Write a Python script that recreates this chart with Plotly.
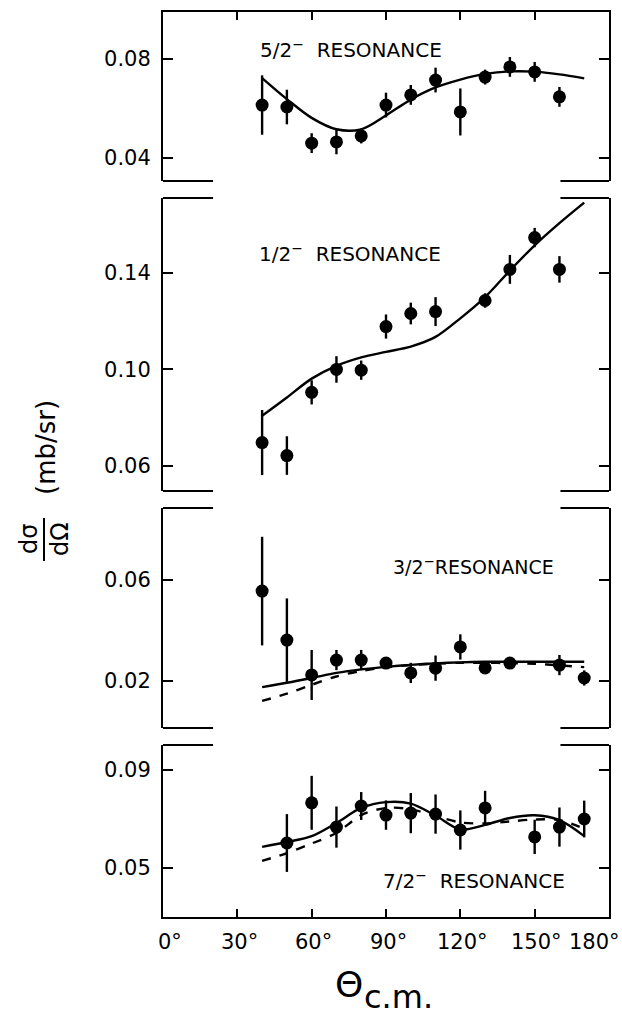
import plotly.graph_objects as go

# ---------------- data ----------------
# 5/2- resonance
ang_52 = [40, 50, 60, 70, 80, 90, 100, 110, 120, 130, 140, 150, 160]
xs_52 = [0.0614, 0.0606, 0.0460, 0.0465, 0.0489, 0.0614, 0.0655, 0.0715, 0.0586, 0.0727, 0.0768, 0.0748, 0.0647]
err_52 = [0.012, 0.007, 0.004, 0.005, 0.003, 0.005, 0.004, 0.005, 0.0095, 0.003, 0.004, 0.004, 0.004]

# 1/2- resonance
ang_12 = [40, 50, 60, 70, 80, 90, 100, 110, 130, 140, 150, 160]
xs_12 = [0.0697, 0.0643, 0.0905, 0.1000, 0.0997, 0.1178, 0.1232, 0.1240, 0.1286, 0.1415, 0.1547, 0.1415]
err_12 = [0.0135, 0.008, 0.005, 0.0055, 0.004, 0.005, 0.0045, 0.006, 0.003, 0.006, 0.004, 0.0055]

# 3/2- resonance
ang_32 = [40, 50, 60, 70, 80, 90, 100, 110, 120, 130, 140, 160, 170]
xs_32 = [0.0556, 0.0362, 0.0224, 0.0283, 0.0283, 0.0271, 0.0232, 0.0251, 0.0335, 0.0252, 0.0271, 0.0263, 0.0212]
err_32 = [0.0215, 0.0165, 0.0099, 0.004, 0.004, 0.002, 0.004, 0.005, 0.005, 0.002, 0.002, 0.004, 0.003]

# 7/2- resonance
ang_72 = [50, 60, 70, 80, 90, 100, 110, 120, 130, 150, 160, 170]
xs_72 = [0.0602, 0.0766, 0.0667, 0.0753, 0.0716, 0.0724, 0.0720, 0.0655, 0.0745, 0.0627, 0.0667, 0.0700]
err_72 = [0.0118, 0.011, 0.0084, 0.0057, 0.006, 0.0082, 0.008, 0.008, 0.007, 0.007, 0.008, 0.0075]

# calculated curves
curve_ang = [40, 50, 60, 70, 80, 90, 100, 110, 120, 130, 140, 150, 160, 170]
fit_52 = [0.0723, 0.0638, 0.0562, 0.0516, 0.0516, 0.0572, 0.0636, 0.0685, 0.0717, 0.0740, 0.0750, 0.0749, 0.0738, 0.0722]
fit_12 = [0.0808, 0.0884, 0.0962, 0.1015, 0.1050, 0.1073, 0.1095, 0.1135, 0.1212, 0.1300, 0.1410, 0.1515, 0.1607, 0.1692]
fit_32 = [0.0176, 0.0193, 0.0212, 0.0232, 0.0246, 0.0256, 0.0264, 0.0270, 0.0274, 0.0276, 0.0276, 0.0276, 0.0276, 0.0276]
fit_32_dash = [0.0121, 0.0150, 0.0185, 0.0218, 0.0240, 0.0254, 0.0263, 0.0269, 0.0272, 0.0272, 0.0271, 0.0268, 0.0262, 0.0255]
fit_72 = [0.0586, 0.0606, 0.0630, 0.0684, 0.0745, 0.0769, 0.0763, 0.0714, 0.0657, 0.0676, 0.0704, 0.0715, 0.0695, 0.0630]
fit_72_dash = [0.0529, 0.0561, 0.0600, 0.0643, 0.0716, 0.0745, 0.0740, 0.0712, 0.0686, 0.0682, 0.0690, 0.0698, 0.0695, 0.0660]

panel_labels = ["5/2<sup>−</sup>  RESONANCE", "1/2<sup>−</sup>  RESONANCE",
                "3/2<sup>−</sup>RESONANCE", "7/2<sup>−</sup>  RESONANCE"]
panel_yticks = [[0.04, 0.08], [0.06, 0.10, 0.14], [0.02, 0.06], [0.05, 0.09]]
panel_ranges = [[0.0307, 0.0990], [0.0496, 0.1711], [0.0014, 0.0885], [0.0300, 0.1002]]
x_ticks = [0, 30, 60, 90, 120, 150, 180]
x_ticktext = ["0°", "30°", "60°", "90°", "120°", "150°", "180°"]

# ---------------- layout geometry (pixels) ----------------
W, H = 622, 1015
L, R, T, B = 163, 609, 12, 917
panel_px = [(12, 181), (198, 491), (508, 728), (745, 917)]


def px_x(p):
    return (p - L) / (R - L)


def px_y(p):
    return (B - p) / (B - T)


FONT = "DejaVu Sans"
BLACK = "black"
LW = 2

fig = go.Figure()

series = [
    (ang_52, xs_52, err_52, [fit_52], ""),
    (ang_12, xs_12, err_12, [fit_12], "2"),
    (ang_32, xs_32, err_32, [fit_32, fit_32_dash], "3"),
    (ang_72, xs_72, err_72, [fit_72, fit_72_dash], "4"),
]

for ang, val, err, fits, s in series:
    for i, f in enumerate(fits):
        fig.add_trace(go.Scatter(
            x=curve_ang, y=f, mode="lines", xaxis="x" + s, yaxis="y" + s,
            line=dict(color=BLACK, width=2.4, shape="spline", smoothing=0.9,
                      dash="solid" if i == 0 else "dash"),
            showlegend=False, hoverinfo="skip"))
    fig.add_trace(go.Scatter(
        x=ang, y=val, mode="markers", xaxis="x" + s, yaxis="y" + s,
        marker=dict(color=BLACK, size=13, line=dict(width=0)),
        error_y=dict(type="data", array=err, visible=True, color=BLACK,
                     thickness=2.4, width=0),
        showlegend=False))

layout = dict(
    width=W, height=H,
    margin=dict(l=L, r=W - R, t=T, b=H - B, pad=0),
    paper_bgcolor="white", plot_bgcolor="white",
    font=dict(family=FONT, color=BLACK),
    showlegend=False,
)

for k, (top, bot) in enumerate(panel_px):
    s = "" if k == 0 else str(k + 1)
    dom = [px_y(bot), px_y(top)]
    ticks = panel_yticks[k]
    layout["yaxis" + s] = dict(
        domain=dom, range=panel_ranges[k], anchor="x" + s,
        showgrid=False, zeroline=False,
        showline=True, linecolor=BLACK, linewidth=LW, mirror="ticks",
        ticks="inside", ticklen=10, tickwidth=LW, tickcolor=BLACK,
        tickvals=ticks, ticktext=[f"{t:.2f}" for t in ticks],
        tickfont=dict(family=FONT, size=21, color=BLACK),
        ticklabelstandoff=6,
    )
    xa = dict(range=[0, 180], anchor="y" + s, showgrid=False, zeroline=False,
              showticklabels=False)
    if k == 0:
        xa.update(side="top", showline=True, linecolor=BLACK, linewidth=LW,
                  ticks="inside", ticklen=8, tickwidth=LW, tickcolor=BLACK,
                  tickvals=x_ticks[1:-1])
    elif k == 3:
        xa.update(side="bottom", showline=True, linecolor=BLACK, linewidth=LW,
                  ticks="inside", ticklen=8, tickwidth=LW, tickcolor=BLACK,
                  tickvals=x_ticks[1:-1])
    else:
        xa.update(showline=False, ticks="")
    if k > 0:
        xa["matches"] = "x"
    layout["xaxis" + s] = xa

fig.update_layout(**layout)

# broken frame: short stubs of the inner panel edges
shapes = []
stub_edges = [(0, [0]), (1, [0, 1]), (2, [0, 1]), (3, [1])]
for k, edges in stub_edges:
    s = "" if k == 0 else str(k + 1)
    for e in edges:
        for x0, x1 in ((0, 20.2), (160.4, 180)):
            shapes.append(dict(type="line", xref="x" + s, yref=f"y{s} domain",
                               x0=x0, x1=x1, y0=e, y1=e,
                               line=dict(color=BLACK, width=LW)))

# fraction bar of the y title
shapes.append(dict(type="line", xref="paper", yref="paper",
                   x0=px_x(44), x1=px_x(44), y0=px_y(518), y1=px_y(561),
                   line=dict(color=BLACK, width=2)))
fig.update_layout(shapes=shapes)

ann = []
# resonance labels
label_pos = [(38.5, 0.0840), (38.0, 0.1483), (92.0, 0.0655), (88.0, 0.0451)]
for k, (lx, ly) in enumerate(label_pos):
    s = "" if k == 0 else str(k + 1)
    ann.append(dict(text=panel_labels[k], x=lx, y=ly, xref="x" + s, yref="y" + s,
                    xanchor="left", yanchor="middle", showarrow=False,
                    font=dict(family=FONT, size=20 if k != 2 else 19, color=BLACK)))

# x tick labels
for v, t in zip(x_ticks, x_ticktext):
    shift = 7 if v == 0 else (-15 if v == 180 else 2)
    ann.append(dict(text=t, x=v, y=0, xref="x4", yref="paper", yanchor="middle",
                    xanchor="center", yshift=-25, xshift=shift, showarrow=False,
                    font=dict(family=FONT, size=21, color=BLACK)))


def title_text(text, cx, cy, size, angle=0):
    return dict(text=text, x=px_x(cx), y=px_y(cy), xref="paper", yref="paper",
                xanchor="center", yanchor="middle", textangle=angle,
                showarrow=False, font=dict(family=FONT, size=size, color=BLACK))


# axis titles
ann.append(title_text("dσ", 29, 539, 24, -90))
ann.append(title_text("dΩ", 60, 539, 24, -90))
ann.append(title_text("(mb/sr)", 46, 448, 26, -90))
ann.append(title_text("Θ", 349, 984, 36))
ann.append(title_text("c.m.", 398, 997, 32))
fig.update_layout(annotations=ann)

fig.write_html("out.html")
